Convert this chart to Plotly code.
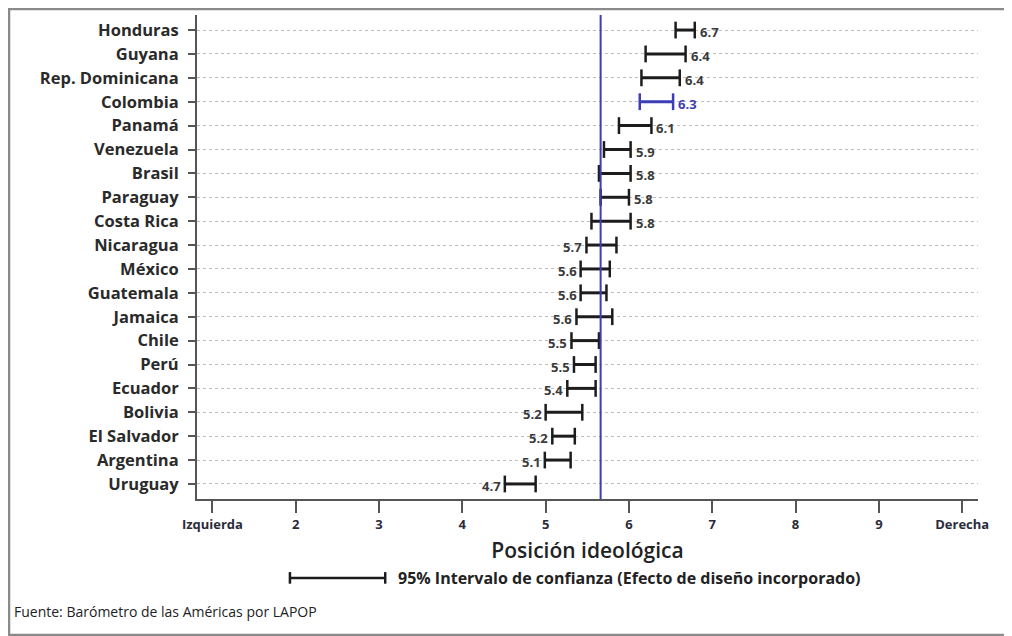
import plotly.graph_objects as go

countries = ["Honduras", "Guyana", "Rep. Dominicana", "Colombia", "Panamá", "Venezuela",
             "Brasil", "Paraguay", "Costa Rica", "Nicaragua", "México", "Guatemala",
             "Jamaica", "Chile", "Perú", "Ecuador", "Bolivia", "El Salvador",
             "Argentina", "Uruguay"]
means = [6.68, 6.44, 6.38, 6.33, 6.07, 5.86, 5.83, 5.83, 5.78, 5.67, 5.60, 5.58,
         5.59, 5.47, 5.47, 5.43, 5.22, 5.22, 5.14, 4.70]
lower = [6.56, 6.20, 6.15, 6.13, 5.88, 5.70, 5.64, 5.66, 5.55, 5.49, 5.42, 5.42,
         5.37, 5.31, 5.34, 5.26, 5.00, 5.08, 4.99, 4.51]
upper = [6.79, 6.68, 6.61, 6.53, 6.27, 6.02, 6.02, 6.00, 6.02, 5.85, 5.77, 5.73,
         5.80, 5.64, 5.60, 5.60, 5.44, 5.35, 5.30, 4.88]
highlight = "Colombia"
overall_mean = 5.66
tick_vals = [1, 2, 3, 4, 5, 6, 7, 8, 9, 10]
tick_text = ["Izquierda", "2", "3", "4", "5", "6", "7", "8", "9", "Derecha"]

BLACK = "#1c1c1c"
BLUE = "#3d3db5"
LABEL = "#3a3a3a"

fig = go.Figure()

# CI bars
for i, c in enumerate(countries):
    col = BLUE if c == highlight else BLACK
    fig.add_trace(go.Scatter(
        x=[lower[i], upper[i]], y=[c, c], mode="lines+markers",
        line=dict(color=col, width=3),
        marker=dict(symbol="line-ns", size=12, line=dict(color=col, width=2.5)),
        showlegend=False, hoverinfo="skip"))

# value labels
for i, c in enumerate(countries):
    col = BLUE if c == highlight else LABEL
    txt = f"{means[i]:.1f}"
    right = means[i] >= 5.75
    fig.add_annotation(
        x=upper[i] if right else lower[i], y=c, text=txt, showarrow=False,
        xanchor="left" if right else "right", yanchor="middle",
        xshift=3 if right else -2, yshift=-2,
        font=dict(family="Open Sans", size=13, color=col, weight="bold"))

# overall mean vertical line
fig.add_shape(type="line", x0=overall_mean, x1=overall_mean, y0=0, y1=1,
              xref="x", yref="paper", line=dict(color=BLUE, width=2), layer="above")

# outer border
fig.add_shape(type="rect", xref="paper", yref="paper",
              x0=-0.2407, x1=1.041, y0=-0.281, y1=1.0124,
              line=dict(color="#8a8a8a", width=2.5), fillcolor="rgba(0,0,0,0)")

# legend sample (CI)
fig.add_shape(type="line", xref="paper", yref="paper", x0=0.119, x1=0.241,
              y0=-0.163, y1=-0.163, line=dict(color=BLACK, width=2.5))
fig.add_shape(type="line", xref="paper", yref="paper", x0=0.119, x1=0.119,
              y0=-0.151, y1=-0.175, line=dict(color=BLACK, width=2.5))
fig.add_shape(type="line", xref="paper", yref="paper", x0=0.241, x1=0.241,
              y0=-0.151, y1=-0.175, line=dict(color=BLACK, width=2.5))
fig.add_annotation(xref="paper", yref="paper", x=0.255, y=-0.163,
                   text="95% Intervalo de confianza (Efecto de diseño incorporado)",
                   showarrow=False, xanchor="left", yanchor="middle",
                   font=dict(family="Open Sans", size=16, color="#222", weight="bold"))
fig.add_annotation(xref="paper", yref="paper", x=-0.237, y=-0.233,
                   text="Fuente: Barómetro de las Américas por LAPOP",
                   showarrow=False, xanchor="left", yanchor="middle",
                   font=dict(family="Open Sans", size=14, color="#222"))

fig.update_layout(
    width=1004, height=628,
    margin=dict(l=189, r=34, t=7, b=137),
    paper_bgcolor="white", plot_bgcolor="white",
    font=dict(family="Open Sans"),
    xaxis=dict(range=[0.815, 10.19], tickvals=tick_vals, ticktext=tick_text,
               showgrid=False, zeroline=False, showline=True, linecolor="#555", linewidth=2,
               ticks="outside", ticklen=12, tickwidth=2, tickcolor="#555",
               tickfont=dict(family="Open Sans", size=13, color="#2b2b3a", weight="bold"),
               title=dict(text="Posición ideológica", standoff=12,
                          font=dict(family="Open Sans", size=21, color="#222", weight=600))),
    yaxis=dict(categoryorder="array", categoryarray=countries[::-1],
               range=[-0.63, 19.63],
               showgrid=True, gridcolor="#bdbdbd", griddash="dot", gridwidth=1,
               showline=True, linecolor="#555", linewidth=2,
               ticks="outside", ticklen=7, tickwidth=2, tickcolor="#555",
               ticklabelstandoff=6,
               tickfont=dict(family="Open Sans", size=16.5, color="#2a2a2a", weight="bold"),
               zeroline=False),
)

fig.write_html("out.html")
